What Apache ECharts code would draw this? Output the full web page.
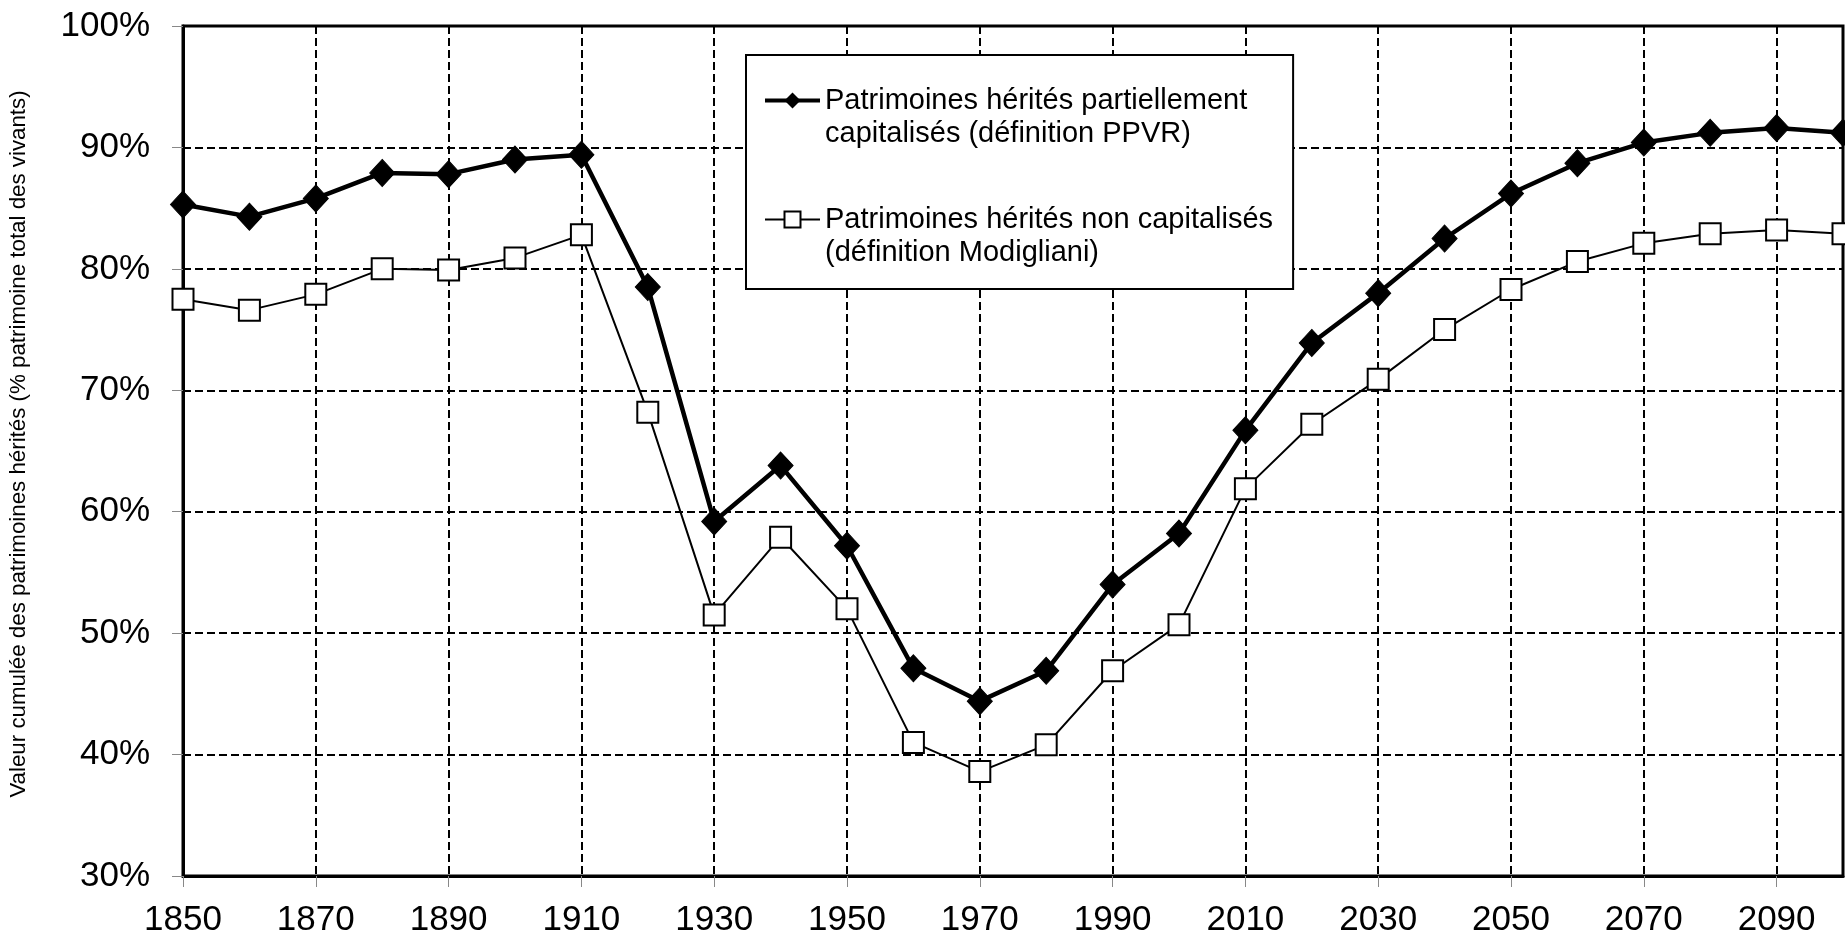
<!DOCTYPE html>
<html>
<head>
<meta charset="utf-8">
<script src="https://cdn.jsdelivr.net/npm/echarts@6/dist/echarts.min.js"></script>
<style>
html,body{margin:0;padding:0;background:#fff;}
#chart{width:1845px;height:941px;}
</style>
</head>
<body>
<div id="chart"></div>
<script>
const years = ['1850','1860','1870','1880','1890','1900','1910','1920','1930','1940','1950','1960','1970','1980','1990','2000','2010','2020','2030','2040','2050','2060','2070','2080','2090','2100'];
const ppvr = [85.3,84.3,85.8,87.9,87.8,89.0,89.4,78.5,59.2,63.8,57.2,47.1,44.4,46.9,54.0,58.2,66.7,73.9,78.0,82.5,86.2,88.7,90.4,91.2,91.6,91.2];
const modigliani = [77.5,76.6,77.9,80.0,79.9,80.9,82.8,68.2,51.5,57.9,52.0,41.0,38.6,40.8,46.9,50.7,61.9,67.2,70.9,75.0,78.3,80.6,82.1,82.9,83.2,82.9];
const seriesNames = ['Patrimoines hérités partiellement\ncapitalisés (définition PPVR)', 'Patrimoines hérités non capitalisés\n(définition Modigliani)'];
const yAxisName = 'Valeur cumulée des patrimoines hérités (% patrimoine total des vivants)';

const FONT = "'Liberation Sans', Arial, sans-serif";
const chart = echarts.init(document.getElementById('chart'), null, {renderer: 'canvas'});
chart.setOption({
  animation: false,
  backgroundColor: '#fff',
  textStyle: {fontFamily: FONT, color: '#000'},
  grid: {left: 183, right: 2, top: 26, bottom: 65, show: true, borderColor: '#000', borderWidth: 3,
         containLabel: false, outerBoundsMode: 'none'},
  legend: {
    left: 746, top: 55,
    orient: 'vertical',
    backgroundColor: '#fff',
    borderColor: '#000', borderWidth: 2,
    padding: [-4, 20, 20, 17],
    itemGap: 20,
    itemWidth: 55, itemHeight: 20,
    formatter: function (name) { return ' \n' + name; },
    textStyle: {fontFamily: FONT, fontSize: 29, lineHeight: 33, color: '#000'},
    data: [
      {name: seriesNames[0], lineStyle: {width: 4}},
      {name: seriesNames[1], lineStyle: {width: 2}}
    ]
  },
  xAxis: {
    type: 'category', data: years, boundaryGap: false,
    axisLine: {lineStyle: {color: '#000', width: 3}},
    axisTick: {show: true, interval: 1, length: 11, lineStyle: {color: '#888', width: 1}},
    axisLabel: {interval: 1, fontSize: 35, color: '#000', margin: 27, fontFamily: FONT},
    splitLine: {show: true, interval: 1, lineStyle: {color: '#000', width: 2, type: [8, 4]}}
  },
  yAxis: {
    type: 'value', min: 30, max: 100, interval: 10,
    name: yAxisName, nameLocation: 'middle', nameGap: 153,
    nameTextStyle: {fontSize: 22.3, color: '#000', fontFamily: FONT, padding: [0, 0, 0, 14]},
    axisLine: {show: true, lineStyle: {color: '#000', width: 3}},
    axisTick: {show: true, length: 11, lineStyle: {color: '#888', width: 1}},
    axisLabel: {formatter: '{value}%', fontSize: 35, color: '#000', margin: 33, fontFamily: FONT},
    splitLine: {show: true, lineStyle: {color: '#000', width: 2, type: [8, 4]}}
  },
  series: [
    {
      name: seriesNames[0], type: 'line', data: ppvr,
      symbol: 'diamond', symbolSize: [25, 27],
      lineStyle: {color: '#000', width: 4.5},
      itemStyle: {color: '#000', borderColor: '#000'},
      z: 3
    },
    {
      name: seriesNames[1], type: 'line', data: modigliani,
      symbol: 'rect', symbolSize: 21,
      lineStyle: {color: '#000', width: 2},
      itemStyle: {color: '#fff', borderColor: '#000', borderWidth: 2},
      z: 4
    }
  ]
});
</script>
</body>
</html>
